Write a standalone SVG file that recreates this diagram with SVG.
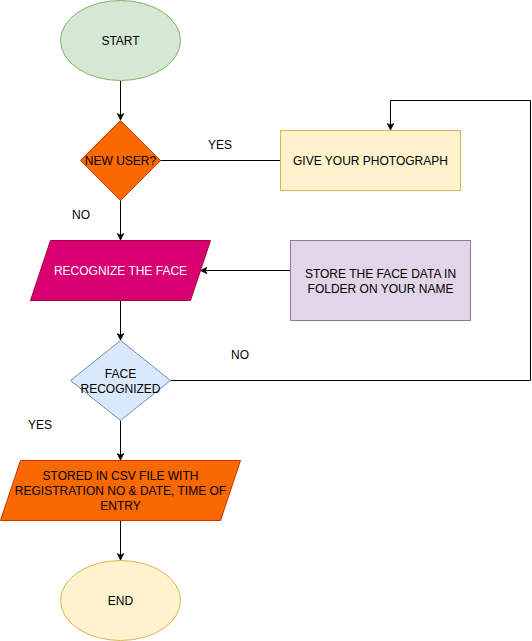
<svg xmlns="http://www.w3.org/2000/svg" width="532" height="641" viewBox="0 0 532 641">
<style>
text{font-family:"Liberation Sans",Arial,sans-serif;font-size:12px;fill:#000;text-anchor:middle;dominant-baseline:central}
.c{fill:none;stroke:#000;stroke-width:1}
.a{marker-end:url(#arr)}
</style>
<defs>
<marker id="arr" viewBox="0 0 10 10" refX="9" refY="5" markerWidth="8" markerHeight="8" markerUnits="userSpaceOnUse" orient="auto">
<path d="M1,1 L9,5 L1,9 L3,5 Z" fill="#000" stroke="#000" stroke-width="1"/>
</marker>
</defs>
<rect width="532" height="641" fill="#fff"/>
<g id="connectors">
<path class="c a" d="M120.5,80.5 V120"/>
<path class="c" d="M160,160.5 H280"/>
<path class="c a" d="M120.5,200 V240"/>
<path class="c a" d="M290,270.5 H200.5"/>
<path class="c a" d="M120.5,300 V340"/>
<path class="c a" d="M170,380.5 H530.5 V100.5 H390.5 V130"/>
<path class="c a" d="M120.5,420 V460"/>
<path class="c a" d="M120.5,520 V560"/>
<text x="220" y="145">YES</text>
<text x="81" y="215">NO</text>
<text x="240" y="355">NO</text>
<text x="40" y="425">YES</text>
</g>
<g id="start">
<ellipse cx="120.5" cy="40.5" rx="60" ry="40" fill="#d5e8d4" stroke="#82b366"/>
<text x="120.5" y="40.5">START</text>
</g>
<g id="new-user">
<path d="M120.5,120.5 L160.5,160.5 L120.5,200.5 L80.5,160.5 Z" fill="#fa6800" stroke="#c73500"/>
<text x="120.5" y="160.5">NEW USER?</text>
</g>
<g id="give-photo">
<rect x="280.5" y="130.5" width="180" height="60" fill="#fff2cc" stroke="#d6b656"/>
<text x="370.5" y="160.5">GIVE YOUR PHOTOGRAPH</text>
</g>
<g id="recognize">
<path d="M50.5,240.5 L210.5,240.5 L190.5,300.5 L30.5,300.5 Z" fill="#d80073" stroke="#a50040"/>
<text x="120.5" y="270.5" style="fill:#fff">RECOGNIZE THE FACE</text>
</g>
<g id="store-face">
<rect x="290.5" y="240.5" width="180" height="80" fill="#e1d5e7" stroke="#9673a6"/>
<text x="380.5" y="273.5">STORE THE FACE DATA IN</text>
<text x="380.5" y="288.5">FOLDER ON YOUR NAME</text>
</g>
<g id="face-recognized">
<path d="M120.5,340.5 L170.5,380.5 L120.5,420.5 L70.5,380.5 Z" fill="#dae8fc" stroke="#6c8ebf"/>
<text x="120.5" y="373.5">FACE</text>
<text x="120.5" y="388.5">RECOGNIZED</text>
</g>
<g id="stored-csv">
<path d="M20.5,460.5 L240.5,460.5 L220.5,520.5 L0.5,520.5 Z" fill="#fa6800" stroke="#c73500"/>
<text x="120.5" y="475.5">STORED IN CSV FILE WITH</text>
<text x="120.5" y="490.5">REGISTRATION NO &amp; DATE, TIME OF</text>
<text x="120.5" y="505.5">ENTRY</text>
</g>
<g id="end">
<ellipse cx="120.5" cy="600.5" rx="60" ry="40" fill="#fff2cc" stroke="#d6b656"/>
<text x="120.5" y="600.5">END</text>
</g>
</svg>
